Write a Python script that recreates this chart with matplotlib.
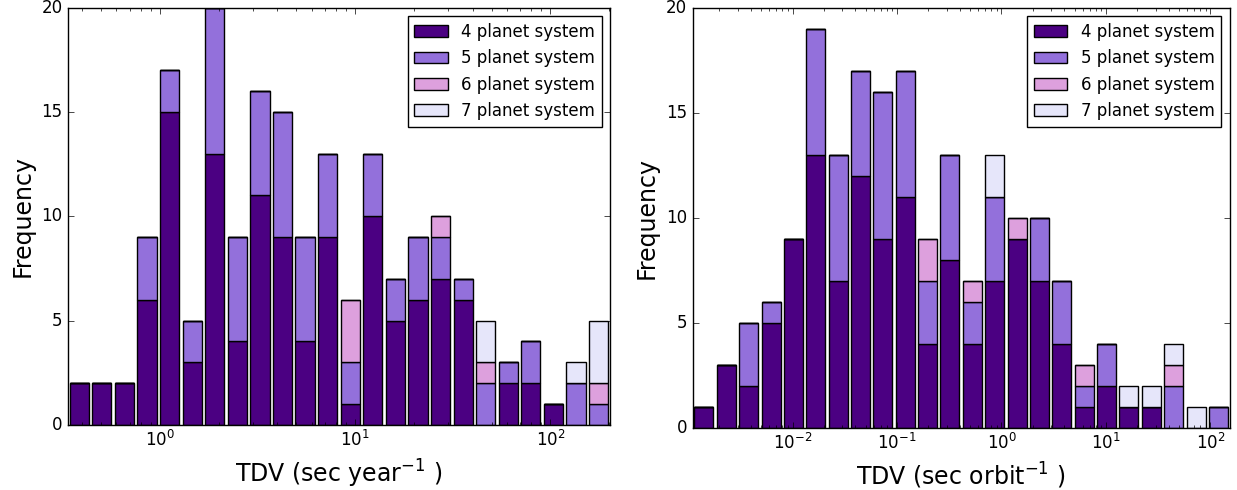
import numpy as np
import matplotlib
matplotlib.use("Agg")
import matplotlib.pyplot as plt

plt.style.use("classic")
plt.rcParams["mathtext.fontset"] = "dejavusans"
plt.rcParams["axes.unicode_minus"] = False

# counts per log bin, split by system multiplicity
labels = ["4 planet system", "5 planet system", "6 planet system", "7 planet system"]
colors = ["indigo", "mediumpurple", "plum", "lavender"]

# TDV per year
year_log_range = (-0.47, 2.305)
year_4 = [2, 2, 2, 6, 15, 3, 13, 4, 11, 9, 4, 9, 1, 10, 5, 6, 7, 6, 0, 2, 2, 1, 0, 0]
year_5 = [0, 0, 0, 3, 2, 2, 7, 5, 5, 6, 5, 4, 2, 3, 2, 3, 2, 1, 2, 1, 2, 0, 2, 1]
year_6 = [0, 0, 0, 0, 0, 0, 0, 0, 0, 0, 0, 0, 3, 0, 0, 0, 1, 0, 1, 0, 0, 0, 0, 1]
year_7 = [0, 0, 0, 0, 0, 0, 0, 0, 0, 0, 0, 0, 0, 0, 0, 0, 0, 0, 2, 0, 0, 0, 1, 3]

# TDV per orbit
orbit_log_range = (-2.955, 2.183)
orbit_4 = [1, 3, 2, 5, 9, 13, 7, 12, 9, 11, 4, 8, 4, 7, 9, 7, 4, 1, 2, 1, 1, 0, 0, 0]
orbit_5 = [0, 0, 3, 1, 0, 6, 6, 5, 7, 6, 3, 5, 2, 4, 0, 3, 3, 1, 2, 0, 0, 2, 0, 1]
orbit_6 = [0, 0, 0, 0, 0, 0, 0, 0, 0, 0, 2, 0, 1, 0, 1, 0, 0, 1, 0, 0, 0, 1, 0, 0]
orbit_7 = [0, 0, 0, 0, 0, 0, 0, 0, 0, 0, 0, 0, 0, 2, 0, 0, 0, 0, 0, 1, 1, 1, 1, 0]


def stacked_hist(ax, log_range, series, xlabel):
    nbins = len(series[0])
    edges = np.logspace(log_range[0], log_range[1], nbins + 1)
    step = (log_range[1] - log_range[0]) / nbins
    pad = 10 ** (0.075 * step)
    left = edges[:-1] * pad
    width = edges[1:] / pad - left
    bottom = np.zeros(nbins)
    for counts, color, label in zip(series, colors, labels):
        counts = np.array(counts, dtype=float)
        ax.bar(left, counts, width=width, bottom=bottom, align="edge",
               color=color, edgecolor="black", linewidth=1, label=label)
        bottom += counts
    ax.set_xscale("log")
    ax.set_xlim(edges[0], edges[-1])
    ax.set_ylim(0, 20)
    ax.set_yticks([0, 5, 10, 15, 20])
    ax.set_xlabel(xlabel, fontsize=17)
    ax.set_ylabel("Frequency", fontsize=17)
    ax.legend(loc="upper right", fontsize=12)


fig = plt.figure(figsize=(12.37, 4.9), dpi=100, facecolor="white")
ax1 = fig.add_axes([0.055, 0.133, 0.438, 0.851])
ax2 = fig.add_axes([0.560, 0.127, 0.434, 0.857])

stacked_hist(ax1, year_log_range, [year_4, year_5, year_6, year_7],
             r"TDV (sec year$^{-1}$ )")
stacked_hist(ax2, orbit_log_range, [orbit_4, orbit_5, orbit_6, orbit_7],
             r"TDV (sec orbit$^{-1}$ )")

fig.savefig("out.png", dpi=100, facecolor="white")
